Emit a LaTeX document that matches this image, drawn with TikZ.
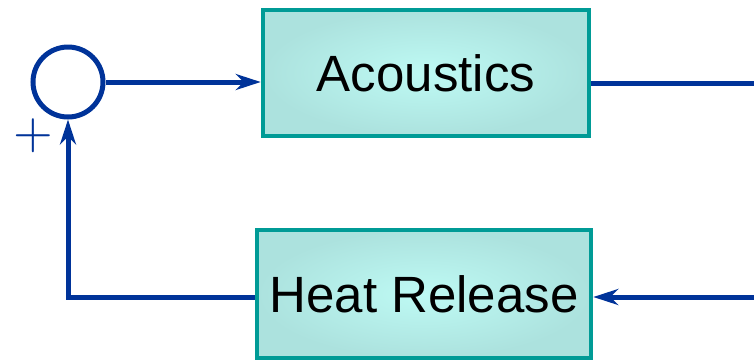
\documentclass[tikz,border=0pt]{standalone}
\usepackage{fontspec}
\setmainfont{Liberation Sans}
\usetikzlibrary{arrows.meta}
\definecolor{sigblue}{RGB}{0,51,153}
\definecolor{boxteal}{RGB}{0,155,150}
\definecolor{boxin}{RGB}{190,250,244}
\definecolor{boxout}{RGB}{172,226,222}

\begin{document}
\begin{tikzpicture}[x=1pt, y=-1pt,
  block/.style={draw=boxteal, line width=4.5pt, shading=radial, inner color=boxin, outer color=boxout, font=\fontsize{51}{60}\selectfont},
  sig/.style={draw=sigblue, line width=5pt},
  sigarrow/.style={sig, -{Stealth[length=25pt, width=16pt, inset=8pt]}}]

\useasboundingbox (0,0) rectangle (754,360);

% Summing junction
\node[sig, circle, minimum size=70pt, inner sep=0pt] (sum) at (68,82) {};

% Plus sign
\node[inner sep=0pt, text=sigblue] (plus) at (33,136) {\scalebox{5.1}{$+$}};

% Acoustics
\node[block, minimum width=326pt, minimum height=126pt] (acoustics) at (426,73) {Acoustics};

% Heat Release
\node[block, minimum width=334pt, minimum height=128pt] (heat) at (424,294) {Heat Release};

% Outer ends
\coordinate (out) at (754,83);
\coordinate (in) at (754,297);

% Arrows
\draw[sigarrow] (sum.east) -- (sum -| acoustics.west);
\draw[sig] (acoustics.east |- out) -- (out);
\draw[sigarrow] (in) -- (in -| heat.east);
\draw[sigarrow] (heat.west |- in) -| (sum.south);

\end{tikzpicture}
\end{document}
